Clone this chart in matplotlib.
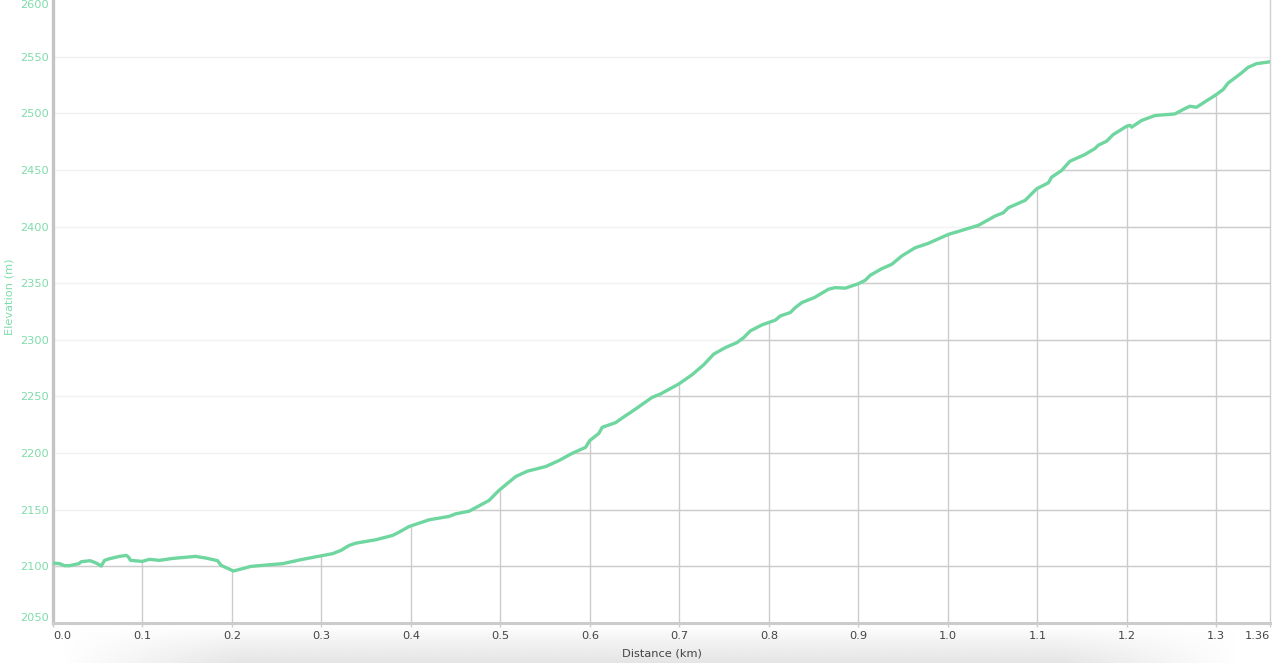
import numpy as np
import matplotlib
matplotlib.use("Agg")
import matplotlib.pyplot as plt
from matplotlib.patches import Polygon

# ---- data ----
distance_km = [0.000, 0.0074, 0.0129, 0.0185, 0.0289, 0.0316, 0.0416, 0.0483, 0.0539, 0.0576,
               0.0632, 0.0743, 0.0818, 0.0844, 0.0866, 0.0997, 0.1078, 0.1190, 0.1338, 0.1592,
               0.1711, 0.1840, 0.1878, 0.2016, 0.2046, 0.2213, 0.2566, 0.2789, 0.3124, 0.3218,
               0.3310, 0.3385, 0.3608, 0.3794, 0.3868, 0.3980, 0.4203, 0.4426, 0.4501, 0.4650,
               0.4871, 0.4983, 0.5171, 0.5300, 0.5506, 0.5654, 0.5802, 0.5952, 0.5997, 0.6100,
               0.6137, 0.6287, 0.6361, 0.6510, 0.6695, 0.6789, 0.6993, 0.7142, 0.7272, 0.7384,
               0.7515, 0.7644, 0.7719, 0.7793, 0.7923, 0.8073, 0.8128, 0.8240, 0.8296, 0.8369,
               0.8511, 0.8667, 0.8742, 0.8854, 0.9002, 0.9077, 0.9133, 0.9262, 0.9374, 0.9485,
               0.9635, 0.9783, 1.0007, 1.0193, 1.0342, 1.0528, 1.0621, 1.0676, 1.0863, 1.0992,
               1.1123, 1.1160, 1.1271, 1.1365, 1.1532, 1.1644, 1.1681, 1.1773, 1.1848, 1.1997,
               1.2035, 1.2053, 1.2164, 1.2314, 1.2537, 1.2629, 1.2704, 1.2778, 1.2871, 1.2983,
               1.3076, 1.3132, 1.3280, 1.3355, 1.3448, 1.3580, 1.3600]
elevation_m = [2102.9, 2102.4, 2100.6, 2100.6, 2102.4, 2104.1, 2105.0, 2102.9, 2100.3, 2105.3,
               2106.8, 2108.8, 2109.7, 2108.2, 2105.3, 2104.4, 2106.2, 2105.3, 2107.0, 2108.8,
               2107.3, 2105.0, 2100.9, 2095.9, 2096.5, 2100.0, 2102.4, 2106.2, 2111.2, 2114.1,
               2118.5, 2120.5, 2123.5, 2127.3, 2130.2, 2135.2, 2141.1, 2144.1, 2146.4, 2148.7,
               2158.1, 2167.0, 2179.3, 2184.0, 2188.1, 2193.4, 2199.8, 2205.1, 2211.0, 2217.4,
               2222.7, 2226.9, 2231.0, 2238.9, 2249.2, 2252.2, 2261.0, 2269.2, 2278.0, 2287.4,
               2293.2, 2297.6, 2302.0, 2307.9, 2313.2, 2317.4, 2321.1, 2324.1, 2328.5, 2332.9,
               2337.4, 2344.7, 2346.1, 2345.6, 2349.6, 2352.6, 2357.0, 2362.8, 2366.7, 2374.0,
               2381.3, 2385.2, 2393.1, 2397.5, 2401.1, 2409.3, 2412.2, 2416.6, 2423.1, 2433.3,
               2438.6, 2443.6, 2449.5, 2457.7, 2463.6, 2468.9, 2471.8, 2475.3, 2481.2, 2488.5,
               2489.4, 2487.7, 2493.6, 2498.0, 2499.4, 2503.3, 2506.2, 2505.3, 2510.0, 2515.6,
               2520.9, 2526.7, 2535.5, 2540.5, 2543.8, 2545.2, 2545.5]

x_ticks = [0.0, 0.1, 0.2, 0.3, 0.4, 0.5, 0.6, 0.7, 0.8, 0.9, 1.0, 1.1, 1.2, 1.3, 1.36]
x_tick_labels = ["0.0", "0.1", "0.2", "0.3", "0.4", "0.5", "0.6", "0.7", "0.8", "0.9",
                 "1.0", "1.1", "1.2", "1.3", "1.36"]
y_ticks = [2050, 2100, 2150, 2200, 2250, 2300, 2350, 2400, 2450, 2500, 2550, 2600]
x_label = "Distance (km)"
y_label = "Elevation (m)"

LINE = "#6fd6a0"
GREEN_TXT = "#7fdcaa"
GRID_DARK = "#cccccc"
GRID_LIGHT = "#f1f1f1"

W, H = 1277, 663
fig = plt.figure(figsize=(W / 100, H / 100), dpi=100)
plt.rcParams['font.family'] = ['DejaVu Sans']

# soft shadow under the axis
sh = fig.add_axes([60 / W, 0, 1180 / W, 36 / H])
gy = np.linspace(0, 1, 60)[:, None]
gx = np.linspace(0, 1, 400)[None, :]
shade = gy ** 0.8 * np.clip(np.minimum(gx / 0.15, (1 - gx) / 0.15), 0, 1)
rgba = np.zeros((60, 400, 4))
rgba[..., :3] = 0.80
rgba[..., 3] = 0.5 * shade
sh.imshow(rgba, aspect='auto', origin='upper', extent=[0, 1, 0, 1])
sh.axis('off')

ax = fig.add_axes([53 / W, (H - 623) / H, (1270 - 53) / W, 623 / H])
ax.set_xlim(0, 1.36)
ax.set_ylim(2050, 2600)
ax.set_facecolor('none')

xs = np.array(distance_km)
ys = np.array(elevation_m)

# light grid everywhere
for yv in y_ticks[1:-1]:
    ax.axhline(yv, color=GRID_LIGHT, lw=1.0, zorder=1)

# darker grid clipped to the area under the curve
clip_poly = Polygon(np.column_stack([np.r_[xs, xs[-1], xs[0]], np.r_[ys, 2050, 2050]]),
                    closed=True, transform=ax.transData, facecolor='none', edgecolor='none')
ax.add_patch(clip_poly)
for yv in y_ticks[1:-1]:
    l = ax.axhline(yv, color=GRID_DARK, lw=1.0, zorder=2)
    l.set_clip_path(clip_poly)
for xv in x_ticks[1:-1]:
    l = ax.axvline(xv, color=GRID_DARK, lw=1.0, zorder=2)
    l.set_clip_path(clip_poly)

ax.plot(xs, ys, color=LINE, lw=2.4, zorder=5, solid_joinstyle='round', solid_capstyle='round')

# spines
ax.spines['top'].set_visible(False)
ax.spines['left'].set_color('#c4c4c4')
ax.spines['left'].set_linewidth(2.4)
ax.spines['bottom'].set_color('#cccccc')
ax.spines['bottom'].set_linewidth(2.2)
ax.spines['right'].set_color('#d0d0d0')
ax.spines['right'].set_linewidth(1.0)

ax.set_xticks(x_ticks)
ax.set_xticklabels(x_tick_labels)
ax.set_yticks(y_ticks)
ax.set_yticklabels([str(v) for v in y_ticks])
ax.tick_params(axis='x', colors='#cccccc', labelcolor='#444444', labelsize=8.2,
               length=3, width=1, pad=3)
ax.tick_params(axis='y', colors=GREEN_TXT, labelcolor=GREEN_TXT, labelsize=8.2,
               length=0, pad=3)
xl = ax.get_xticklabels()
xl[0].set_ha('left')
xl[-1].set_ha('right')
yl = ax.get_yticklabels()
yl[0].set_va('bottom')
yl[-1].set_va('top')

ax.set_xlabel(x_label, color='#444444', fontsize=8.2, labelpad=5)
fig.text(10 / W, (H - 297) / H, y_label, rotation=90, color=GREEN_TXT,
         fontsize=8.2, ha='center', va='center')

fig.savefig("out.png", dpi=100)
